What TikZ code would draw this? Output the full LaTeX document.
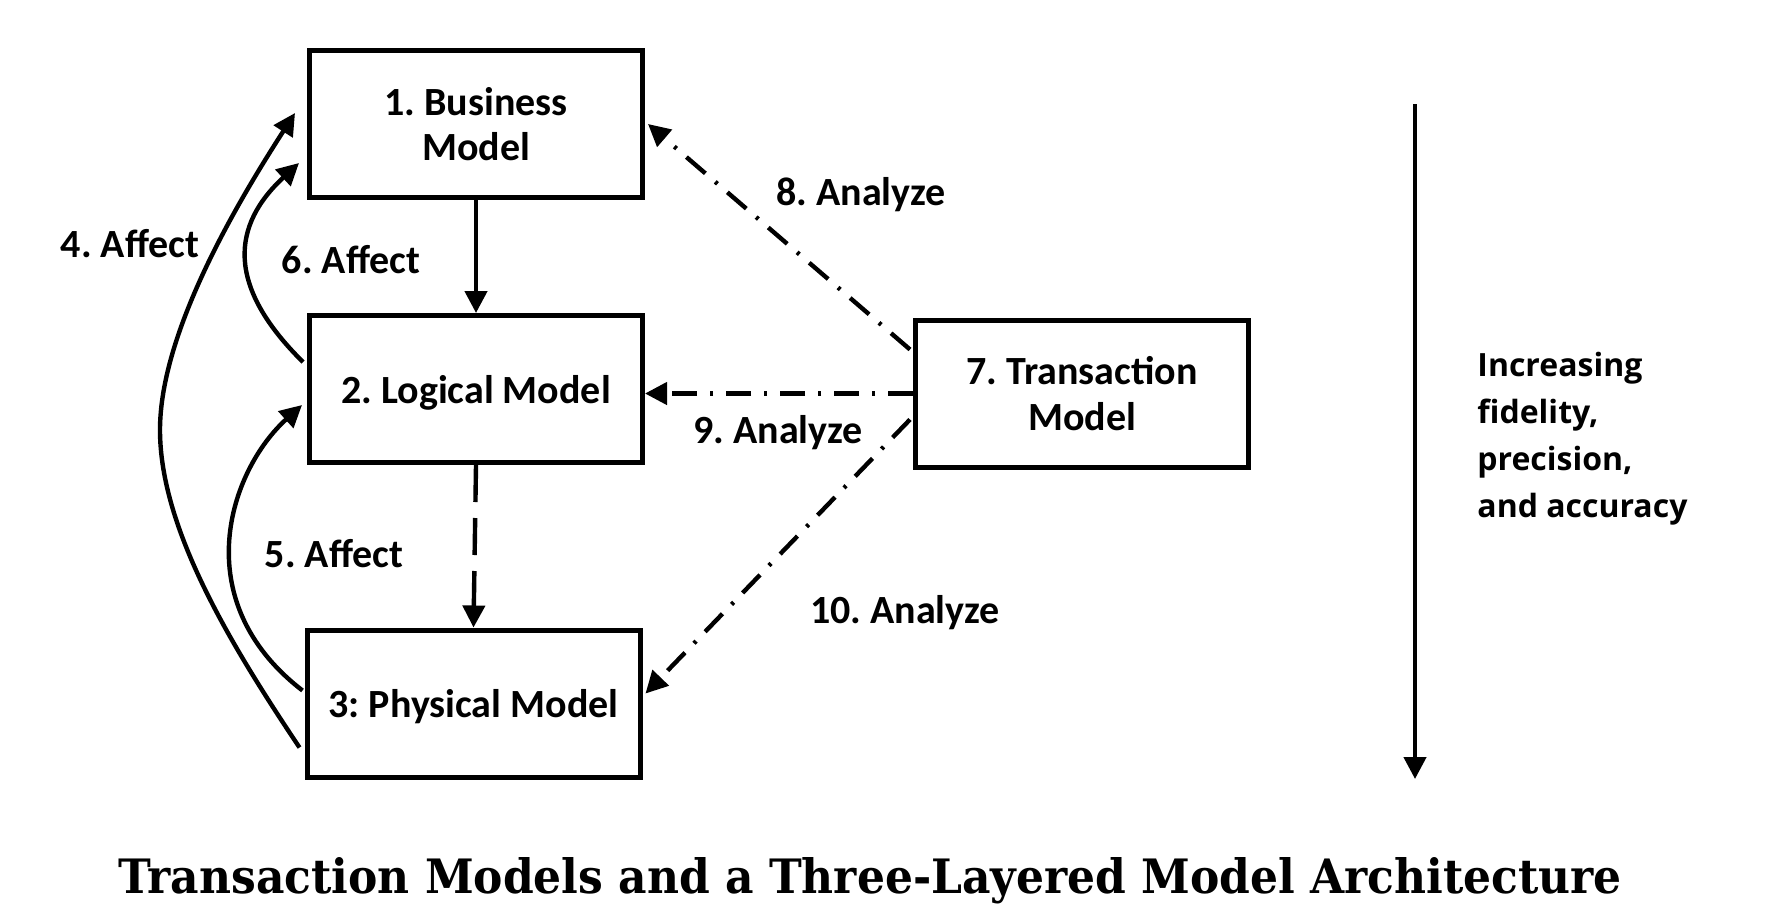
\documentclass[tikz,border=0pt]{standalone}
\usepackage{fontspec}
\usepackage{graphicx}
\setmainfont{Carlito}
\newfontfamily\titlefont{DejaVu Serif}
\newfontfamily\sidefont{Open Sans}
\usetikzlibrary{arrows.meta}
\frenchspacing
\begin{document}
\begin{tikzpicture}[x=0.5pt,y=-0.5pt,
  box/.style={draw, line width=2.5pt, minimum width=166.5pt, minimum height=73.5pt, inner sep=0pt, align=center, font=\bfseries\fontsize{20}{22.7}\selectfont},
  lbl/.style={font=\bfseries\fontsize{20}{22}\selectfont, inner sep=0pt},
  conn/.style={line width=2.2pt, -{Triangle[length=11pt,width=11pt]}},
  dashdot/.style={dash pattern=on 12.5pt off 6.5pt on 1.5pt off 6.5pt},
  longdash/.style={dash pattern=on 18.5pt off 8pt}
]
\useasboundingbox (0,0) rectangle (1781,923);
\node[box] (b1) at (476,124) {1. Business\\Model};
\node[box, text depth=0pt] (b2) at (476,389) {2. Logical Model};
\node[box, text depth=0pt] (b3) at (473.5,703.5) {3: Physical Model};
\node[box] (b7) at (1082,393.5) {7. Transaction\\Model};

\draw[conn] (b1.south) -- (b2.north);
\draw[conn, longdash] (b2.south) -- (b3.north);

\draw[conn] ([xshift=-2.5pt,yshift=-22pt]b3.west) .. controls (233,648) and (160,530) .. (160,430) .. controls (160,330) and (241,197) .. ([xshift=-6pt,yshift=5.5pt]b1.west);
\draw[conn] ([xshift=-2pt,yshift=13.5pt]b2.west) .. controls (225,285) and (232,225) .. ([xshift=-4pt,yshift=-19.5pt]b1.west);
\draw[conn] ([xshift=-1pt,yshift=6.5pt]b3.west) .. controls (185,600) and (230,470) .. ([xshift=-2.5pt,yshift=-8pt]b2.west);

\draw[conn, dashdot] ([xshift=-1.5pt,yshift=22pt]b7.west) -- ([xshift=1.5pt]b1.east);
\draw[conn, dashdot] (b7.west) -- (b7.west -| b2.east);
\draw[conn, dashdot] ([xshift=-1.5pt,yshift=-13pt]b7.west) -- ([xshift=1.5pt,yshift=5pt]b3.east);

\coordinate (ftop) at (1415,104);
\coordinate (fbot) at (1415,779);
\draw[conn] (ftop) -- (fbot);

\node[lbl] (l4) at (130,244) {4. Affect};
\node[lbl] (l6) at (351,260) {6. Affect};
\node[lbl] (l5) at (334,554) {5. Affect};
\node[lbl] (l8) at (861,195) {8. Analyze};
\node[lbl] (l9) at (778,433) {9. Analyze};
\node[lbl] (l10) at (905,613) {10. Analyze};

\node[anchor=north west, align=left, inner sep=0pt, font=\sidefont\bfseries\fontsize{16}{23.5}\selectfont] (side) at (1477,352) {Increasing\\fidelity,\\precision,\\and accuracy};

\node[anchor=base, inner sep=0pt] (title) at (870,893) {\resizebox{752pt}{18pt}{\titlefont\bfseries Transaction Models and a Three-Layered Model Architecture}};
\end{tikzpicture}
\end{document}
